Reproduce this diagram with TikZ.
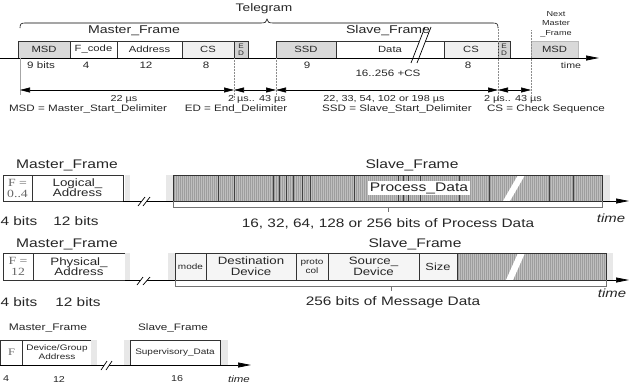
\documentclass[tikz,border=0pt]{standalone}
\usepackage{fontspec}
\setmainfont[FakeStretch=1.25]{Liberation Sans}
\newfontfamily\tnr[FakeStretch=1.25]{Liberation Serif}
\usetikzlibrary{arrows.meta,positioning}

\newcommand\fs[2]{\fontsize{#1}{#2}\selectfont}

\begin{document}
\begin{tikzpicture}[x=1pt,y=-1pt,>={Triangle[length=10pt,width=5pt]},
  every node/.style={text=black!85,inner sep=0pt,outer sep=0pt},
  cell/.style={draw=black!80,line width=0.6pt,align=center,font=\fs{9}{10}},
  row1/.style={cell,minimum height=17pt},
  fuzz/.style={fill=gray!18},
  dots/.style={black!45,densely dotted,line width=0.5pt},
  taxis/.style={line width=0.7pt,-{Triangle[length=13pt,width=5pt]}},
  dim/.style={<->,line width=0.6pt},
  brk/.style={line width=0.7pt},
  pbar/.style={black!75,line width=0.9pt},
  lbl/.style={font=\fs{9.3}{11}},
  hatch/.style={fill=black!25},
  ttl/.style={font=\fs{12.5}{14}},
  big/.style={font=\fs{12.3}{14}}]
\useasboundingbox (0,0) rectangle (629,383);

% telegram
\node[font=\fs{11}{13}] (tel) at (264,9) {Telegram};
\draw[line width=0.6pt] (20,28) .. controls (20,24) and (21,23) .. (25,23) -- (261,23)
  .. controls (265,23) and (267,22) .. (267,19) .. controls (267,22) and (269,23) .. (273,23)
  -- (493,23) .. controls (497,23) and (498,24) .. (498,28);
\node[font=\fs{11.3}{13}] (mf1) at (134,31) {Master\_Frame};
\node[font=\fs{7.3}{9.5},align=center] (nmf) at (556,24) {Next\\Master\\\_Frame};

\node[row1,fill=gray!30,minimum width=52pt,anchor=north west] (msd) at (18,41) {MSD};
\node[row1,minimum width=47pt,right=0pt of msd] (fcode) {F\_code};
\node[row1,minimum width=65pt,right=0pt of fcode] (addr) {Address};
\node[row1,fill=gray!12,minimum width=52pt,right=0pt of addr] (cs1) {CS};
\node[row1,fill=gray!35,minimum width=14pt,font=\fs{6.5}{7},right=0pt of cs1] (ed1) {E\\D};
\node[row1,fill=gray!30,minimum width=60pt,anchor=north west] (ssd) at (276,41) {SSD};
\node[row1,minimum width=108pt,right=0pt of ssd] (data) {Data};
\node[row1,fill=gray!12,minimum width=54pt,right=0pt of data] (cs2) {CS};
\node[row1,fill=gray!35,minimum width=12pt,font=\fs{6.5}{7},right=0pt of cs2] (ed2) {E\\D};
\node[row1,fill=gray!30,draw=gray!55,minimum width=47pt,anchor=north west] (nmsd) at (531,41) {MSD};

\fill[white] (411,63) -- (421,37) -- (427,37) -- (417,63) -- cycle;
\draw[brk] (411,63) -- (425,27) (417,63) -- (431,27);
\node[font=\fs{11.3}{13}] (sf1) at (388,31) {Slave\_Frame};

\coordinate (t0) at (0,58);
\coordinate (t1) at (599,58);
\draw[taxis] (t0) -- (t1);
\node[font=\fs{8.5}{10}] (time1) at (571,65) {time};

\node[lbl] (n1) at (41,65) {9 bits};
\node[lbl] (n2) at (86,65) {4};
\node[lbl] (n3) at (146,65) {12};
\node[lbl] (n4) at (206,65) {8};
\node[lbl] (n5) at (307,65) {9};
\node[lbl] (n6) at (468,65) {8};
\node[lbl] (n7) at (388,73) {16..256 +CS};

\coordinate (d0) at (20,90);
\coordinate (d1) at (234,90);
\coordinate (d2) at (276,90);
\coordinate (d3) at (498,90);
\coordinate (d4) at (531,90);
\draw[black!35,line width=0.5pt] (20,58) -- (20,95);
\draw[dots] (234,58) -- (234,100);
\draw[dots] (276,58) -- (276,96);
\draw[dots] (498,27) -- (498,100);
\draw[dots] (531,30) -- (531,96);
\draw[dim] (d0) -- (d1);
\draw[dim] (d1) -- (d2);
\draw[dim] (d2) -- (d3);
\draw[dim] (d3) -- (d4);

\node[font=\fs{8.7}{10}] (m1) at (124,99) {22 µs};
\node[font=\fs{8.7}{10}] (m2) at (257,99) {2 µs.. 43 µs};
\node[font=\fs{8.7}{10}] (m3) at (384,99) {22, 33, 54, 102 or 198 µs};
\node[font=\fs{8.7}{10}] (m4) at (513,99) {2 µs.. 43 µs};

\node[font=\fs{9.3}{11}] (k1) at (88,109) {MSD = Master\_Start\_Delimiter};
\node[font=\fs{9.3}{11}] (k2) at (236,109) {ED = End\_Delimiter};
\node[font=\fs{9.3}{11}] (k3) at (397,109) {SSD = Slave\_Start\_Delimiter};
\node[font=\fs{9.3}{11}] (k4) at (546,109) {CS = Check Sequence};

% process data
\node[ttl] (mf2) at (67,165) {Master\_Frame};
\node[cell,minimum width=29pt,minimum height=26pt,font=\tnr\fs{11}{11},text=black!60,anchor=north west] (f2) at (3,175) {F =\\0..4};
\node[cell,minimum width=91pt,minimum height=26pt,font=\fs{10.7}{10},right=0pt of f2] (la) {Logical\_\\Address};
\fill[fuzz] (125,175) rectangle (130,201);
\fill[fuzz] (166,175) rectangle (173,201);
\fill[fuzz] (602,175) rectangle (610,201);

\coordinate (a2s) at (123,201);
\coordinate (a2e) at (629,201);
\draw[taxis] (a2s) -- (a2e);
\fill[white] (138,206) -- (145,197) -- (150,197) -- (143,206) -- cycle;
\draw[brk] (138,206) -- (145,197) (143,206) -- (150,197);

\node[hatch,minimum width=429pt,minimum height=26pt,anchor=north west] (sb2) at (173,175) {};
\begin{scope}
\clip (sb2.north west) rectangle (sb2.south east);
\foreach \x in {174,176,...,602} \draw[black!38,line width=0.5pt] (\x,175) -- (\x,201);
\end{scope}
\foreach \x in {218,234,273,279,286,293,302,310,354,398,403,408,420,459,489,549,573}
  \draw[pbar] (\x,175) -- (\x,201);
\fill[white] (503,201) -- (518,175) -- (525,175) -- (510,201) -- cycle;
\draw[black!80,line width=0.6pt] (sb2.north west) rectangle (sb2.south east);
\node[fill=white,inner sep=1.5pt,ttl] (pd) at (419,188) {Process\_Data};
\node[ttl] (sf2) at (412,165) {Slave\_Frame};
\draw[black!55,line width=0.5pt] (sb2.south west) -- ++(0,6) -| (sb2.south east)
  (388,207) -- (388,212);
\node[font=\itshape\fs{11.9}{13}] (time2) at (611,218) {time};

\node[big] (b21) at (19,221) {4 bits};
\node[big] (b22) at (76,221) {12 bits};
\node[big] (b23) at (388,224) {16, 32, 64, 128 or 256 bits of Process Data};

% message data
\node[ttl] (mf3) at (67,244) {Master\_Frame};
\node[cell,minimum width=30pt,minimum height=27pt,font=\tnr\fs{11}{11},text=black!60,anchor=north west] (f3) at (3,253) {F =\\12};
\node[cell,minimum width=92pt,minimum height=27pt,font=\fs{10.7}{10},right=0pt of f3] (pa) {Physical\_\\Address};
\fill[fuzz] (125,253) rectangle (130,280);
\fill[fuzz] (168,253) rectangle (175,280);
\fill[fuzz] (606,253) rectangle (613,280);

\coordinate (a3s) at (125,280);
\coordinate (a3e) at (629,280);
\draw[taxis] (a3s) -- (a3e);
\fill[white] (137,285) -- (143,277) -- (150,277) -- (143,285) -- cycle;
\draw[brk] (137,285) -- (143,277) (143,285) -- (150,277);

\node[hatch,minimum width=149pt,minimum height=27pt,anchor=north west] (sb3) at (457,253) {};
\begin{scope}
\clip (sb3.north west) rectangle (sb3.south east);
\foreach \x in {458,460,...,606} \draw[black!38,line width=0.5pt] (\x,253) -- (\x,280);
\end{scope}
\fill[white] (506,280) -- (518,253) -- (525,253) -- (513,280) -- cycle;
\node[cell,fill=gray!8,minimum width=31pt,minimum height=27pt,font=\fs{8}{9},anchor=north west] (mode) at (175,253) {mode};
\node[cell,fill=gray!8,minimum width=90pt,minimum height=27pt,font=\fs{10.6}{11},right=0pt of mode] (dst) {Destination\\Device};
\node[cell,fill=gray!8,minimum width=32pt,minimum height=27pt,font=\fs{8}{9.5},right=0pt of dst] (proto) {proto\\col};
\node[cell,fill=gray!8,minimum width=91pt,minimum height=27pt,font=\fs{10.6}{11},right=0pt of proto] (src) {Source\_\\Device};
\node[cell,fill=gray!8,minimum width=38pt,minimum height=27pt,font=\fs{10.3}{11},right=0pt of src] (size) {Size};
\draw[black!80,line width=0.6pt] (mode.north west) rectangle (sb3.south east);
\node[ttl] (sf3) at (415,244) {Slave\_Frame};
\draw[black!55,line width=0.5pt] (mode.south west) -- ++(0,6) -| (sb3.south east)
  (391,286) -- (391,291);
\node[font=\itshape\fs{11.9}{13}] (time3) at (612,293) {time};

\node[big] (b31) at (19,302) {4 bits};
\node[big] (b32) at (78,302) {12 bits};
\node[big] (b33) at (393,302) {256 bits of Message Data};

% supervisory data
\node[font=\fs{9.6}{11}] (mf4) at (48,328) {Master\_Frame};
\node[cell,minimum width=22pt,minimum height=25pt,font=\tnr\fs{10}{11},text=black!60,anchor=north west] (f4) at (0.5,340) {F};
\node[cell,minimum width=69pt,minimum height=25pt,font=\fs{8}{9},right=0pt of f4] (dga) {Device/Group\\Address};
\fill[fuzz] (91,340) rectangle (97,365);
\fill[fuzz] (124,340) rectangle (130,365);
\fill[fuzz] (220,340) rectangle (228,365);
\node[cell,minimum width=90pt,minimum height=25pt,font=\fs{8}{9},anchor=north west] (svd) at (130,340) {Supervisory\_Data};
\node[font=\fs{9.4}{11}] (sf4) at (173,328) {Slave\_Frame};

\coordinate (a4s) at (0,365);
\coordinate (a4e) at (251,365);
\draw[taxis] (a4s) -- (a4e);
\fill[white] (101,370) -- (107,361) -- (112,361) -- (106,370) -- cycle;
\draw[brk] (101,370) -- (107,361) (106,370) -- (112,361);

\node[font=\fs{8.6}{10}] (b41) at (6,379) {4};
\node[font=\fs{8.6}{10}] (b42) at (59,379) {12};
\node[font=\fs{8.6}{10}] (b43) at (177,379) {16};
\node[font=\itshape\fs{9.2}{10}] (time4) at (239,379) {time};
\end{tikzpicture}
\end{document}
